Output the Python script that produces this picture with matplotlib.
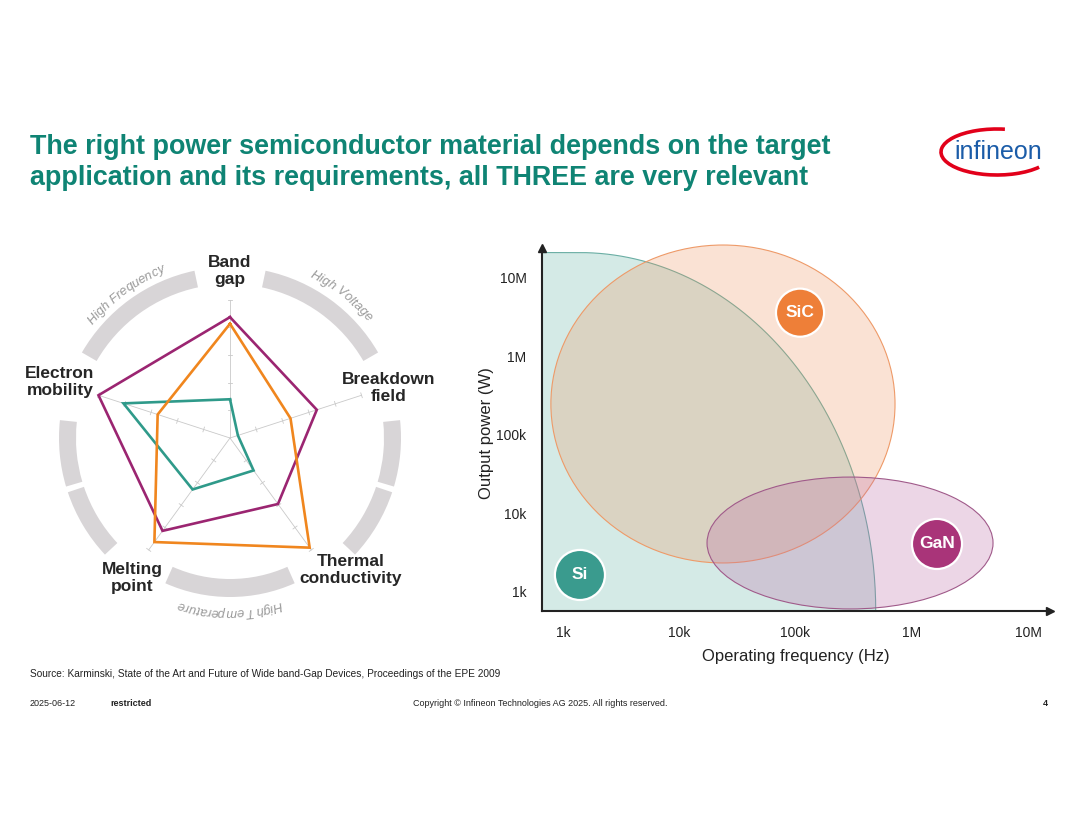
import numpy as np
import matplotlib
matplotlib.use("Agg")
import matplotlib.pyplot as plt
from matplotlib.patches import Wedge, Ellipse, Polygon, Arc
from matplotlib.font_manager import FontProperties, findfont, get_font
from matplotlib.ft2font import LoadFlags

plt.rcParams['font.family'] = ['Liberation Sans', 'DejaVu Sans']

# ---- radar data (scale 0..5) ----
radar_labels = ['Band\ngap', 'Breakdown\nfield', 'Thermal\nconductivity', 'Melting\npoint', 'Electron\nmobility']
radar_angles = [90, 18, -54, -126, 162]
si_vals = [1.4, 0.3, 1.45, 2.3, 4.05]
sic_vals = [4.13, 2.3, 4.9, 4.65, 2.75]
gan_vals = [4.37, 3.3, 2.95, 4.15, 5.0]

# ---- application map data (log10 of Hz / W) ----
freq_ticks = [3, 4, 5, 6, 7]
freq_labels = ['1k', '10k', '100k', '1M', '10M']
power_ticks = [3, 4, 5, 6, 7]
power_labels = ['1k', '10k', '100k', '1M', '10M']
si_flat_end = 3.14
si_freq_max = 5.69
si_power_max = 7.32
sic_center = (4.376, 5.391)
sic_size = (2.96, 4.05)
gan_center = (5.469, 3.62)
gan_size = (2.46, 1.68)
badge_names = ['Si', 'SiC', 'GaN']
badge_freq = [3.146, 5.039, 6.217]
badge_power = [3.213, 6.554, 3.608]

GREEN = '#0f8474'
SI_C, SIC_C, GAN_C = '#2f9a8a', '#f0861e', '#9b2571'

fig = plt.figure(figsize=(10.8, 8.34), dpi=100)
W, H = 1080, 834

# ---------------- radar chart ----------------
unit = 138.3 / 5  # px per radar unit
cx_px, cy_px = 230, 438
ax1 = fig.add_axes([0, (H - 640) / H, 460 / W, 410 / H])
ax1.set_xlim(-cx_px / unit, (460 - cx_px) / unit)
ax1.set_ylim(-(640 - cy_px) / unit, (cy_px - 230) / unit)
ax1.axis('off')

def u(px):
    return px / unit

# grey ring segments
ring = [(102, 150, 154, 171), (30, 78, 154, 171),
        (-16.5, 6, 154, 171), (-43, -18.5, 154, 171),
        (174, 196.5, 154, 171), (198.5, 223, 154, 171),
        (-114, -66, 141, 159)]
for t1, t2, rin, rout in ring:
    ax1.add_patch(Wedge((0, 0), u(rout), t1, t2, width=u(rout - rin),
                        facecolor='#d8d5d7', edgecolor='none'))

# axis spokes and tick marks
for ang in radar_angles:
    t = np.deg2rad(ang)
    ax1.plot([0, 5 * np.cos(t)], [0, 5 * np.sin(t)], color='#c9c9c9', lw=0.6, zorder=1)
    nx, ny = -np.sin(t), np.cos(t)
    for k in range(1, 6):
        px, py = k * np.cos(t), k * np.sin(t)
        ax1.plot([px - 0.09 * nx, px + 0.09 * nx], [py - 0.09 * ny, py + 0.09 * ny],
                 color='#c9c9c9', lw=0.6, zorder=1)

th = np.deg2rad(radar_angles + radar_angles[:1])
for vals, col in [(si_vals, SI_C), (gan_vals, GAN_C), (sic_vals, SIC_C)]:
    v = np.array(vals + vals[:1])
    ax1.plot(v * np.cos(th), v * np.sin(th), color=col, lw=1.9, zorder=3,
             solid_joinstyle='miter')

label_px = [(230, 271), (389, 388), (351, 570), (132, 578), (60, 382)]
for lab, (lx, ly) in zip(radar_labels, label_px):
    ax1.text(u(lx - cx_px), u(cy_px - ly), lab, ha='center', va='center',
             fontsize=12.5, fontweight='bold', color='#262626', linespacing=1.15)

# curved italic captions along the ring
cap_font = FontProperties(family='Liberation Sans', style='italic', size=9.3)
ft = get_font(findfont(cap_font))
ft.set_size(9.3, 100)

def advance(ch):
    g = ft.load_char(ord(ch), flags=LoadFlags.NO_HINTING)
    return g.linearHoriAdvance / 65536.0  # pixels

def curved_text(text, theta_c, r_px):
    adv = [advance(ch) for ch in text]
    edges = np.concatenate([[0], np.cumsum(adv)])
    total = edges[-1]
    r = u(r_px)
    for i, ch in enumerate(text):
        mid = (edges[i] + edges[i + 1]) / 2 - total / 2
        ang = theta_c - np.rad2deg(u(mid) / r)
        t = np.deg2rad(ang)
        ax1.text(r * np.cos(t), r * np.sin(t), ch, fontproperties=cap_font,
                 color='#9a9a9a', rotation=ang - 90, rotation_mode='anchor',
                 ha='center', va='baseline')

curved_text('High Frequency', 126, 178)
curved_text('High Voltage', 52, 180)
curved_text('High Temperature', -90, 171)

# ---------------- application map ----------------
x0, x1, y0, y1 = 541.7, 1050, 248, 611
ax2 = fig.add_axes([x0 / W, (H - y1) / H, (x1 - x0) / W, (y1 - y0) / H])
ax2.set_xlim(2.817, 7.189)
ax2.set_ylim(2.754, 7.378)
xmin, ymin = ax2.get_xlim()[0], ax2.get_ylim()[0]

# Si region: flat top then quarter ellipse down to the frequency axis
t = np.linspace(0, np.pi / 2, 200)
a = si_freq_max - si_flat_end
b = si_power_max - ymin
curve_x = si_flat_end + a * np.cos(t[::-1])
curve_y = ymin + b * np.sin(t[::-1])
si_x = np.concatenate([[xmin, xmin], curve_x])
si_y = np.concatenate([[ymin, si_power_max], curve_y])
ax2.add_patch(Polygon(np.column_stack([si_x, si_y]), closed=True,
                      facecolor='#d4eae6', edgecolor='none', zorder=1))
ax2.plot(np.concatenate([[xmin], curve_x]), np.concatenate([[si_power_max], curve_y]),
         color='#6aaea4', lw=0.8, zorder=1.5)

ax2.add_patch(Ellipse(sic_center, sic_size[0], sic_size[1], facecolor='#ef8f57',
                      alpha=0.25, edgecolor='none', zorder=2, clip_on=False))
ax2.add_patch(Ellipse(sic_center, sic_size[0], sic_size[1], facecolor='none',
                      edgecolor='#ee9a68', lw=0.8, zorder=2.1, clip_on=False))
ax2.add_patch(Ellipse(gan_center, gan_size[0], gan_size[1], facecolor='#bc6ca8',
                      alpha=0.28, edgecolor='none', zorder=3, clip_on=False))
ax2.add_patch(Ellipse(gan_center, gan_size[0], gan_size[1], facecolor='none',
                      edgecolor='#a05a8a', lw=0.8, zorder=3.1, clip_on=False))

badge_cols = ['#3a9b8e', '#ee7f38', '#a93479']
ax2.scatter(badge_freq, badge_power, s=[1300, 1200, 1300], c=badge_cols,
            edgecolors='white', linewidths=1.6, zorder=5)
for name, bx, by in zip(badge_names, badge_freq, badge_power):
    ax2.text(bx, by, name, ha='center', va='center', color='white',
             fontsize=12.5, fontweight='bold', zorder=6)

for s in ['top', 'right']:
    ax2.spines[s].set_visible(False)
for s in ['left', 'bottom']:
    ax2.spines[s].set_linewidth(1.5)
    ax2.spines[s].set_color('#222222')
    ax2.spines[s].set_zorder(7)
ax2.plot(1, 0, marker='>', color='#222222', ms=6, transform=ax2.transAxes, clip_on=False)
ax2.plot(0, 1, marker='^', color='#222222', ms=6, transform=ax2.transAxes, clip_on=False)

ax2.set_xticks(freq_ticks, freq_labels)
ax2.set_yticks(power_ticks, power_labels)
ax2.tick_params(length=0, labelsize=10, colors='#222222')
ax2.tick_params(axis='x', pad=11)
ax2.tick_params(axis='y', pad=11)
ax2.set_xlabel('Operating frequency (Hz)', fontsize=12, color='#222222')
ax2.set_ylabel('Output power (W)', fontsize=12, color='#222222')
ax2.xaxis.set_label_coords(0.5, -0.105)
ax2.yaxis.set_label_coords(-0.093, 0.49)

# ---------------- slide text ----------------
fig.text(30 / W, (H - 153.5) / H, 'The right power semiconductor material depends on the target',
         fontsize=19.4, fontweight='bold', color=GREEN, va='baseline')
fig.text(30 / W, (H - 185) / H, 'application and its requirements, all THREE are very relevant',
         fontsize=19.4, fontweight='bold', color=GREEN, va='baseline')

fig.text(30 / W, (H - 674) / H,
         'Source: Karminski, State of the Art and Future of Wide band-Gap Devices, Proceedings of the EPE 2009',
         fontsize=7.3, color='#222222', va='center')
fig.text(30 / W, (H - 704) / H, '2025-06-12', fontsize=6.5, color='#222222', va='center')
fig.text(110 / W, (H - 704) / H, 'restricted', fontsize=6.5, fontweight='bold',
         color='#222222', va='center')
fig.text(540 / W, (H - 704) / H, 'Copyright \u00a9 Infineon Technologies AG 2025. All rights reserved.',
         fontsize=6.5, color='#222222', va='center', ha='center')
fig.text(1048 / W, (H - 704) / H, '4', fontsize=6.5, fontweight='bold',
         color='#222222', va='center', ha='right')

# logo
fig.add_artist(Arc((997 / W, (H - 152) / H), 112 / W, 46 / H, theta1=75, theta2=335,
                   color='#e2001a', lw=2.6, transform=fig.transFigure))
fig.text(998 / W, (H - 152) / H, 'infineon', fontsize=18, color='#1b5ca8',
         ha='center', va='center')

fig.savefig('out.png', dpi=100, facecolor='white')
